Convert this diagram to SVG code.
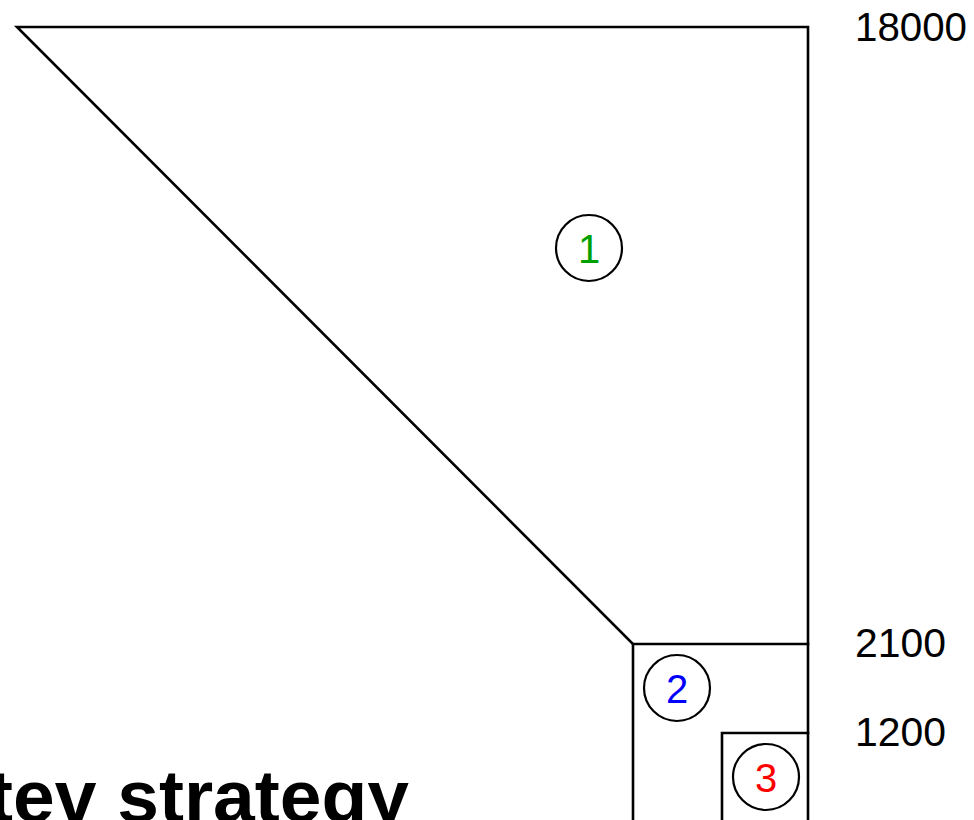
<svg xmlns="http://www.w3.org/2000/svg" width="974" height="820" viewBox="0 0 974 820">
<style>
.ln{fill:none;stroke:#000;stroke-width:2.6;stroke-linecap:square}
.lbl{font-family:"Liberation Sans",Arial,sans-serif;font-size:40px;fill:#000}
.num{font-family:"Liberation Sans",Arial,sans-serif;font-size:40px;text-anchor:middle}
.ring{fill:#fff;stroke:#000;stroke-width:2.2}
.title{font-family:"Liberation Sans",Arial,sans-serif;font-weight:bold;font-size:75px;fill:#000}
</style>
<rect width="974" height="820" fill="#fff"/>
<g id="connectors">
<path class="ln" d="M633,644 L17,27 L808,27 L808,822"/>
<path class="ln" d="M633,822 L633,644 L808,644"/>
<path class="ln" d="M722,822 L722,733 L808,733"/>
</g>
<g id="region1">
<circle class="ring" cx="589" cy="248" r="33"/>
<text class="num" x="589" y="263" fill="#00a000">1</text>
</g>
<g id="region2">
<circle class="ring" cx="677" cy="688" r="33"/>
<text class="num" x="677" y="703" fill="#0000ff">2</text>
</g>
<g id="region3">
<circle class="ring" cx="766" cy="777" r="33"/>
<text class="num" x="766" y="792" fill="#ff0000">3</text>
</g>
<g id="labels">
<text class="lbl" x="855" y="41" textLength="112" lengthAdjust="spacingAndGlyphs">18000</text>
<text class="lbl" x="855" y="657" textLength="91" lengthAdjust="spacingAndGlyphs">2100</text>
<text class="lbl" x="855" y="746" textLength="91" lengthAdjust="spacingAndGlyphs">1200</text>
</g>
<g id="title">
<text class="title" x="409" y="822" text-anchor="end">tev strategy</text>
</g>
</svg>
